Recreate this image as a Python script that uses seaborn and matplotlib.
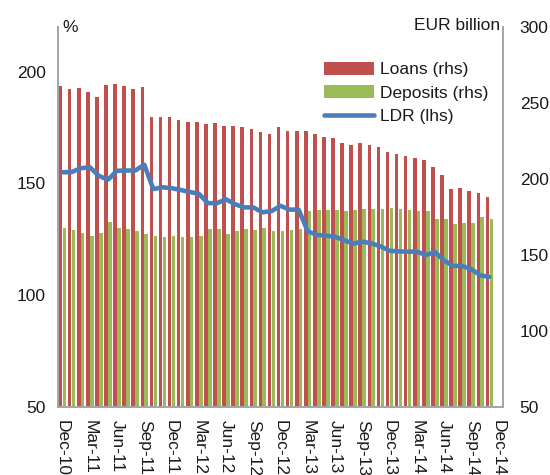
import numpy as np
import pandas as pd
import matplotlib
matplotlib.use("Agg")
import matplotlib.pyplot as plt
import seaborn as sns
from matplotlib.patches import Patch
from matplotlib.lines import Line2D

# ---- data -------------------------------------------------------------
months = list(pd.date_range("2010-12-01", periods=49, freq="MS").strftime("%b-%y"))
tick_labels = ["Dec-10", "Mar-11", "Jun-11", "Sep-11", "Dec-11", "Mar-12", "Jun-12",
               "Sep-12", "Dec-12", "Mar-13", "Jun-13", "Sep-13", "Dec-13", "Mar-14",
               "Jun-14", "Sep-14", "Dec-14"]

nan = np.nan
loans = [261.4, 259.2, 259.7, 257.2, 253.8, 261.6, 262.2, 261.2, 259.2, 260.5,
         240.5, 240.8, 240.5, 238.6, 237.5, 237.4, 236.2, 236.6, 234.9, 234.7,
         233.9, 232.6, 230.9, 229.8, 234.2, 231.4, 231.4, 231.4, 229.4, 227.8,
         227.0, 223.6, 222.2, 223.9, 222.5, 220.9, 217.8, 216.3, 215.3, 214.0,
         212.3, 207.9, 202.4, 193.2, 194.1, 191.9, 190.8, 188.2, nan]
deposits = [168.0, 166.4, 164.7, 162.6, 164.5, 172.0, 167.9, 167.1, 165.8, 163.8,
            162.6, 161.7, 162.2, 161.8, 161.8, 162.7, 166.9, 166.9, 163.6, 165.6,
            167.3, 166.4, 167.8, 166.0, 166.1, 166.6, 166.8, 179.1, 179.9, 179.6,
            179.4, 179.1, 179.9, 180.1, 180.1, 180.1, 180.7, 180.1, 179.6, 178.9,
            179.1, 173.7, 173.5, 170.6, 171.1, 171.1, 174.8, 173.7, nan]
ldr = [155.0, 155.1, 156.8, 157.3, 153.4, 151.7, 155.7, 155.8, 155.8, 158.4,
       147.5, 148.3, 147.9, 147.1, 146.2, 145.4, 141.2, 141.2, 142.9, 140.7,
       139.3, 139.3, 137.1, 137.6, 140.0, 138.3, 138.3, 128.6, 127.0, 126.6,
       126.2, 124.6, 123.1, 124.0, 123.2, 121.9, 119.9, 119.6, 119.5, 119.5,
       118.0, 119.3, 115.6, 113.1, 113.1, 111.7, 108.9, 108.2, nan]

RED = "#C0504D"
GREEN = "#9BBB59"
BLUE = "#4A7EBB"
SPINE = "#A6A6A6"
TXT = "#1A1A1A"

# ---- style ------------------------------------------------------------
sns.set_theme(style="white")
plt.rcParams["font.family"] = ["Liberation Sans", "DejaVu Sans"]
FS = 12.5

fig = plt.figure(figsize=(5.5, 4.75), dpi=100)
ax = fig.add_axes([58 / 550, 68 / 475, 445 / 550, 380 / 475])
ax2 = ax.twinx()

pos = np.arange(len(months))
long = pd.DataFrame({
    "pos": np.concatenate([pos, pos]),
    "value": loans + deposits,
    "series": ["Loans (rhs)"] * len(months) + ["Deposits (rhs)"] * len(months),
})

sns.barplot(data=long, x="pos", y="value", hue="series", order=list(pos),
            hue_order=["Loans (rhs)", "Deposits (rhs)"],
            palette={"Loans (rhs)": RED, "Deposits (rhs)": GREEN},
            width=0.86, gap=0.08, saturation=1, errorbar=None, legend=False,
            linewidth=0, ax=ax2)

sns.lineplot(x=pos, y=ldr, ax=ax, color=BLUE, linewidth=3.3,
             solid_capstyle="round", solid_joinstyle="round")

ax.set_zorder(ax2.get_zorder() + 1)
ax.patch.set_visible(False)

# axes limits / ticks
ax.set_xlim(-0.5, len(months) - 0.5)
ax.set_ylim(50, 220)
ax.set_yticks([50, 100, 150, 200])
ax2.set_ylim(50, 300)
ax2.set_yticks([50, 100, 150, 200, 250, 300])
ax.set_xticks(pos[::3])
ax.set_xticklabels(tick_labels, rotation=270, ha="center", va="top")

for a in (ax, ax2):
    a.grid(False)
    a.set_xlabel("")
    a.set_ylabel("")
    a.spines["top"].set_visible(False)
    for s in ("left", "right", "bottom"):
        a.spines[s].set_color(SPINE)
        a.spines[s].set_linewidth(1.3)
    a.tick_params(length=0, labelsize=FS, colors=TXT)

ax.tick_params(axis="y", pad=9)
ax.tick_params(axis="x", pad=9)
ax2.tick_params(axis="y", pad=12)

fig.text(62 / 550, 1 - 28 / 475, "%", ha="left", va="center", fontsize=FS, color=TXT)
fig.text(500 / 550, 1 - 26 / 475, "EUR billion", ha="right", va="center",
         fontsize=FS, color=TXT)

handles = [Patch(facecolor=RED, edgecolor="none"),
           Patch(facecolor=GREEN, edgecolor="none"),
           Line2D([], [], color=BLUE, linewidth=3.3, solid_capstyle="round")]
fig.legend(handles, ["Loans (rhs)", "Deposits (rhs)", "LDR (lhs)"],
           loc="upper left", bbox_to_anchor=(324 / 550, 1 - 62 / 475),
           bbox_transform=fig.transFigure, frameon=False, fontsize=FS,
           handlelength=2.9, handleheight=0.75, handletextpad=0.35,
           labelspacing=0.45, borderpad=0, borderaxespad=0, labelcolor=TXT)

fig.savefig("out.png", dpi=100)
